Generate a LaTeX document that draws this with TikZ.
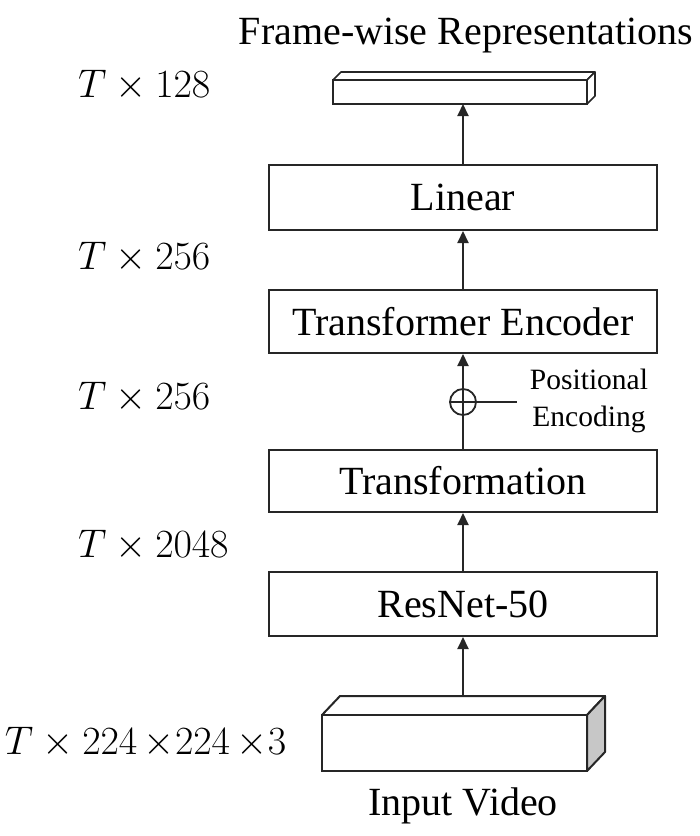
\documentclass[tikz,border=0pt]{standalone}
\usepackage{fix-cm}
\usepackage{fontspec}
\setmainfont{Liberation Serif}
\usetikzlibrary{arrows.meta,calc}
\begin{document}
\begin{tikzpicture}[x=1pt,y=-1pt,
  line width=2pt,
  lc/.style={draw=black!85},
  blockbox/.style={lc,rectangle,minimum width=388pt,inner sep=0pt,font=\fontsize{40}{44}\selectfont},
  dimlabel/.style={anchor=west,inner sep=0pt,font=\fontsize{40}{44}\selectfont},
  arr/.style={lc,-{Triangle[length=12pt,width=11pt]}},
  capt/.style={inner sep=0pt,font=\fontsize{40}{44}\selectfont}]
\useasboundingbox (0,0) rectangle (700,836);
% top bar (output representation)
\coordinate (tb1) at (333,80);
\coordinate (tb2) at (587,80);
\coordinate (tb3) at (587,104);
\coordinate (tb4) at (333,104);
\coordinate (tbo) at (8,-8);
\draw[lc,line width=1.6pt,line join=round,fill=white] (tb1) -- ++(tbo) -- ($(tb2)+(tbo)$) -- (tb2) -- cycle;
\fill[white] (tb2) -- ++(tbo) -- ($(tb3)+(tbo)$) -- (tb3) -- cycle;
\draw[lc,line width=1.6pt,line join=round] (tb2) -- ++(tbo) -- ($(tb3)+(tbo)$) -- (tb3);
\draw[lc,line width=1.6pt] (tb1) rectangle (tb3);
\coordinate (topbar) at (463,104);
\node[capt] (title) at (466,36) {Frame-wise Representations};
% blocks
\node[blockbox,minimum height=65pt] (linear) at (463,197.5) {Linear};
\node[blockbox,minimum height=63pt] (transf) at (463,321.5) {Transformer Encoder};
\node[blockbox,minimum height=62pt] (transfo) at (463,481) {Transformation};
\node[blockbox,minimum height=64pt] (resnet) at (463,604) {ResNet-50};
% input video box
\coordinate (iv1) at (322,715);
\coordinate (iv2) at (587,715);
\coordinate (iv3) at (587,771);
\coordinate (ivo) at (18,-19);
\draw[lc,line join=round,fill=white] (iv1) -- ++(ivo) -- ($(iv2)+(ivo)$) -- (iv2) -- cycle;
\draw[lc,line join=round,fill=black!22] (iv2) -- ++(ivo) -- ($(iv3)+(ivo)$) -- (iv3) -- cycle;
\draw[lc,fill=white] (iv1) rectangle (iv3);
\coordinate (ivtop) at (463,696);
\node[capt] (inputcap) at (463,806) {Input Video};
% positional encoding
\node[lc,circle,minimum size=26pt,inner sep=0pt,line width=1.8pt] (plus) at (463,402) {};
\coordinate (peend) at (517,402);
\draw[lc,line width=1.8pt] (plus.west) -- (peend);
\node[inner sep=0pt,align=center,font=\fontsize{29.5}{37}\selectfont] (pelabel) at (589,401) {Positional\\Encoding};
% arrows
\draw[arr] (linear.north) -- (topbar);
\draw[arr] (transf.north) -- (linear.south);
\draw[arr] (transfo.north) -- (transf.south);
\draw[arr] (resnet.north) -- (transfo.south);
\draw[arr] (ivtop) -- (resnet.south);
% dimension labels
\node[dimlabel] (d1) at (77,85) {$T\times 128$};
\node[dimlabel] (d2) at (77,257) {$T\times 256$};
\node[dimlabel] (d3) at (77,397) {$T\times 256$};
\node[dimlabel] (d4) at (77,545) {$T\times 2048$};
\node[dimlabel] (d5) at (4,742) {$T\times 224\,{\times}224\,{\times}3$};
\end{tikzpicture}
\end{document}
